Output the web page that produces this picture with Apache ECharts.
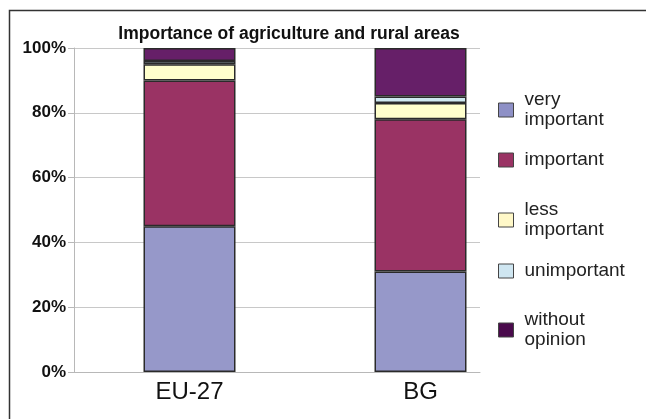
<!DOCTYPE html>
<html>
<head>
<meta charset="utf-8">
<script src="https://cdn.jsdelivr.net/npm/echarts@6/dist/echarts.min.js"></script>
<style>
  html, body { margin: 0; padding: 0; background: #fff; }
  #chart { width: 646px; height: 419px; }
</style>
</head>
<body>
<div id="chart"></div>
<script>
// Survey answers (% of respondents) per region
const regions = ['EU-27', 'BG'];
const answers = ['very important', 'important', 'less important', 'unimportant', 'without opinion'];
const veryImportant = [45, 31];
const important = [45, 47];
const lessImportant = [5, 5];
const unimportant = [1, 2];
const withoutOpinion = [4, 15];
const percentTicks = [0, 20, 40, 60, 80, 100];

const seriesValues = [veryImportant, important, lessImportant, unimportant, withoutOpinion];
const fills = ['#9698c9', '#9a3364', '#ffffcc', '#cfe9f1', '#661f68'];
const legendFills = ['#8e90c6', '#9a3364', '#fff8c8', '#cfe6f1', '#4a0a4c'];
const labelBreaks = {
  'very important': 'very\nimportant',
  'less important': 'less\nimportant',
  'without opinion': 'without\nopinion'
};
const legendTops = [85, 145, 195, 256, 305];

const font = '"Liberation Sans", Arial, sans-serif';

const chart = echarts.init(document.getElementById('chart'), null, { renderer: 'canvas' });

chart.setOption({
  backgroundColor: '#fff',
  animation: false,
  title: {
    text: 'Importance of agriculture and rural areas',
    left: 284,
    textAlign: 'center',
    top: 20,
    textStyle: { fontFamily: font, fontWeight: 'bold', fontSize: 17.5, color: '#111' }
  },
  graphic: [{
    type: 'polyline',
    shape: { points: [[9.5, 440], [9.5, 10.5], [680, 10.5]] },
    style: { fill: 'none', stroke: '#333', lineWidth: 1.5 },
    silent: true
  }],
  legend: answers.map((name, i) => ({
    data: [{ name: name, itemStyle: { color: legendFills[i], borderColor: '#444', borderWidth: 1 } }],
    orient: 'vertical',
    left: 493,
    top: legendTops[i],
    icon: 'rect',
    itemWidth: 15,
    itemHeight: 14,
    formatter: n => labelBreaks[n] || n,
    textStyle: { fontFamily: font, fontSize: 19, lineHeight: 20, color: '#222', padding: [0, 0, 0, 6] }
  })),
  grid: [
    { left: 74, right: 166, top: 48, bottom: 47 },
    { left: 74, right: 110, top: 48, bottom: 47 }
  ],
  xAxis: [
    {
      gridIndex: 0, type: 'category', data: regions,
      axisLine: { show: true, lineStyle: { color: '#b8b8b8', width: 1 } },
      axisTick: { show: false }, axisLabel: { show: false }
    },
    {
      gridIndex: 1, type: 'category', data: regions,
      axisLine: { show: false }, axisTick: { show: false },
      axisLabel: { fontFamily: font, fontSize: 24, color: '#111', margin: 8 }
    }
  ],
  yAxis: [
    {
      gridIndex: 0, type: 'value', min: percentTicks[0], max: percentTicks[percentTicks.length - 1], interval: 20,
      axisLine: { show: true, lineStyle: { color: '#b8b8b8', width: 1 } },
      axisTick: { show: true, length: 6, lineStyle: { color: '#b8b8b8' } },
      splitLine: { show: true, lineStyle: { color: '#c8c8c8', width: 1 } },
      axisLabel: {
        formatter: v => percentTicks.includes(v) ? v + '%' : '',
        fontFamily: font, fontWeight: 'bold', fontSize: 17, color: '#111', margin: 8
      }
    },
    {
      gridIndex: 1, type: 'value', min: 0, max: 100, show: false
    }
  ],
  series: answers.map((name, i) => ({
    name: name,
    type: 'bar',
    stack: 'share',
    xAxisIndex: 1,
    yAxisIndex: 1,
    barWidth: 92,
    data: seriesValues[i],
    itemStyle: { color: fills[i], borderColor: '#2a2a2a', borderWidth: 1.5 }
  }))
});
</script>
</body>
</html>
